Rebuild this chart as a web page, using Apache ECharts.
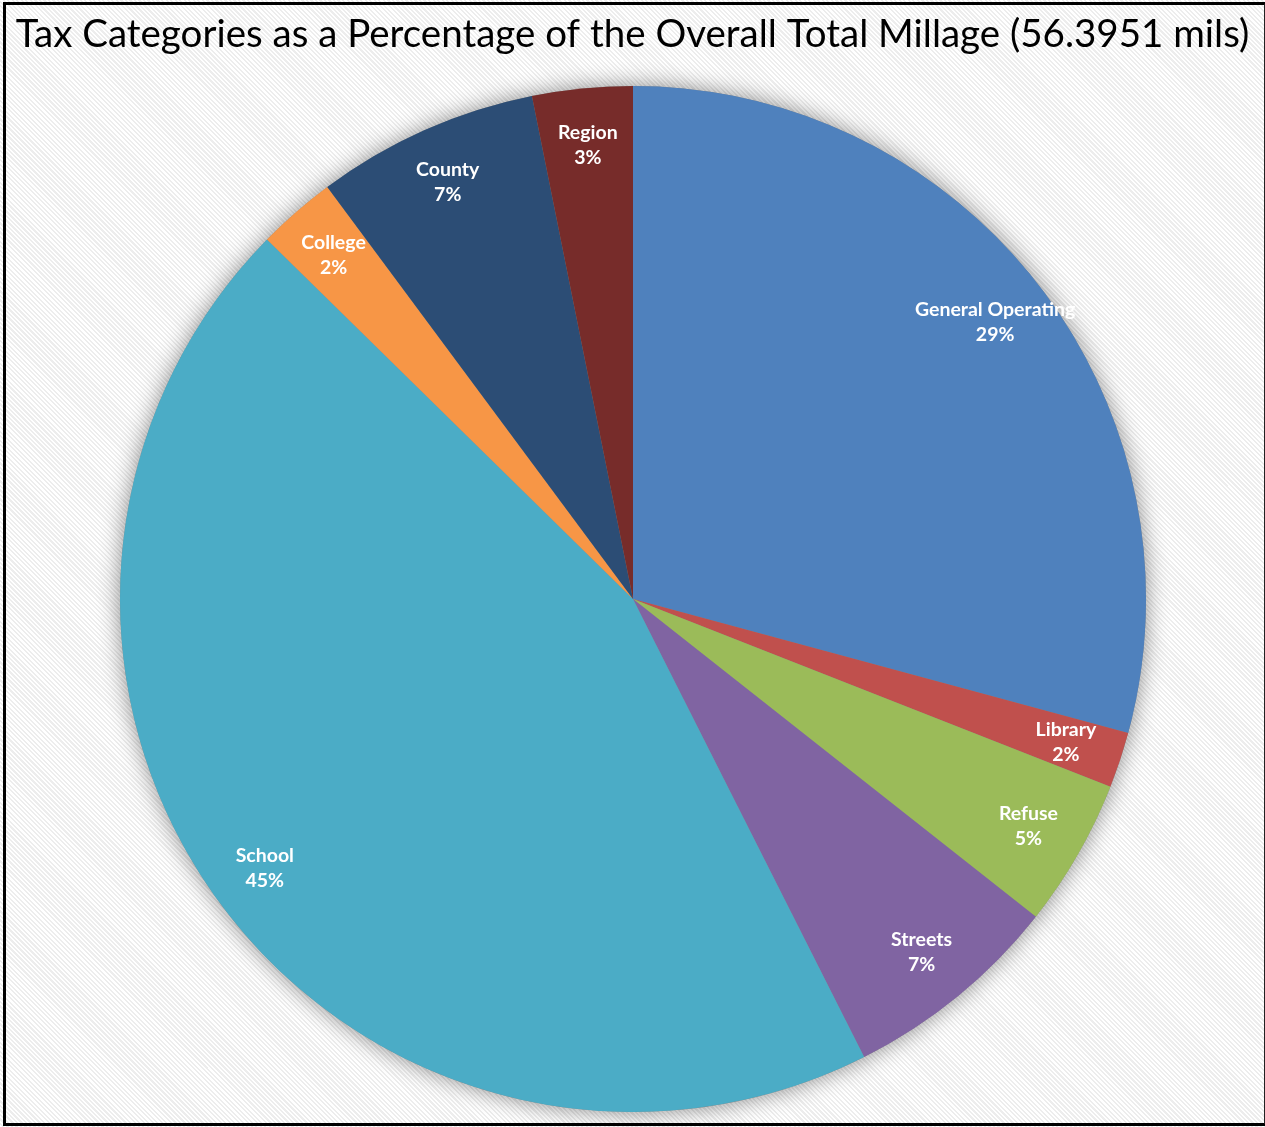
<!DOCTYPE html>
<html>
<head>
<meta charset="utf-8">
<script src="https://cdn.jsdelivr.net/npm/echarts@6/dist/echarts.min.js"></script>
<style>
html, body { margin: 0; padding: 0; background: #fff; }
#chart {
  position: absolute; left: 0; top: 0; width: 1265px; height: 1127px;
  background: repeating-linear-gradient(45deg, #ffffff 0px, #ffffff 1.6px, #ededed 1.6px, #ededed 3.2px);
}
#frame {
  position: absolute; left: 3px; top: 2px; width: 1258px; height: 1118px;
  border-left: 3px solid #000; border-top: 3px solid #000;
  border-right: 2px solid #222; border-bottom: 3px solid #000;
  pointer-events: none;
}
</style>
</head>
<body>
<div id="chart"></div>
<div id="frame"></div>
<script>
// Data (mils), clockwise from 12 o'clock
const categories = ['General Operating', 'Library', 'Refuse', 'Streets', 'School', 'College', 'County', 'Region'];
const mils = [16.47, 0.99, 2.63, 3.91, 25.26, 1.40, 3.95, 1.78];
const colors = ['#4F81BD', '#C0504D', '#9BBB59', '#8064A2', '#4BACC6', '#F79646', '#2C4D75', '#772C2A'];
const titleText = 'Tax Categories as a Percentage of the Overall Total Millage (56.3951 mils)';

const total = mils.reduce((a, b) => a + b, 0);
const pieData = categories.map((c, i) => ({ name: c, value: mils[i], itemStyle: { color: colors[i] } }));

const chart = echarts.init(document.getElementById('chart'), null, { renderer: 'canvas' });
const center = [633, 599];
const R = 513;

chart.setOption({
  animation: false,
  backgroundColor: 'transparent',
  title: {
    text: titleText,
    left: 'center',
    top: 10,
    textStyle: { fontFamily: 'Lato', fontSize: 38.5, fontWeight: 'normal', color: '#000' }
  },
  series: [
    {
      // shadow disc behind the pie
      type: 'pie', silent: true, center: center, radius: [0, R], startAngle: 90,
      data: [{ value: total, name: 'all' }],
      label: { show: false }, labelLine: { show: false },
      itemStyle: { color: '#888', shadowBlur: 22, shadowColor: 'rgba(0,0,0,0.45)' },
      z: 1
    },
    {
      type: 'pie', center: center, radius: [0, R], startAngle: 90, clockwise: true,
      data: pieData,
      label: { show: false }, labelLine: { show: false },
      itemStyle: { borderWidth: 0 },
      z: 2
    },
    {
      // label ring (transparent) so labels sit near the outer edge
      type: 'pie', silent: true, center: center, radius: [393, R], startAngle: 90, clockwise: true,
      data: pieData.map(d => ({ name: d.name, value: d.value, itemStyle: { color: 'rgba(0,0,0,0)' } })),
      labelLine: { show: false },
      label: {
        show: true, position: 'inside',
        formatter: p => p.name + '\n' + Math.round(p.value / total * 100) + '%',
        color: '#fff', fontFamily: 'Lato', fontWeight: 'bold', fontSize: 19.5, lineHeight: 25,
        textBorderWidth: 0
      },
      z: 3
    }
  ]
});
</script>
</body>
</html>
